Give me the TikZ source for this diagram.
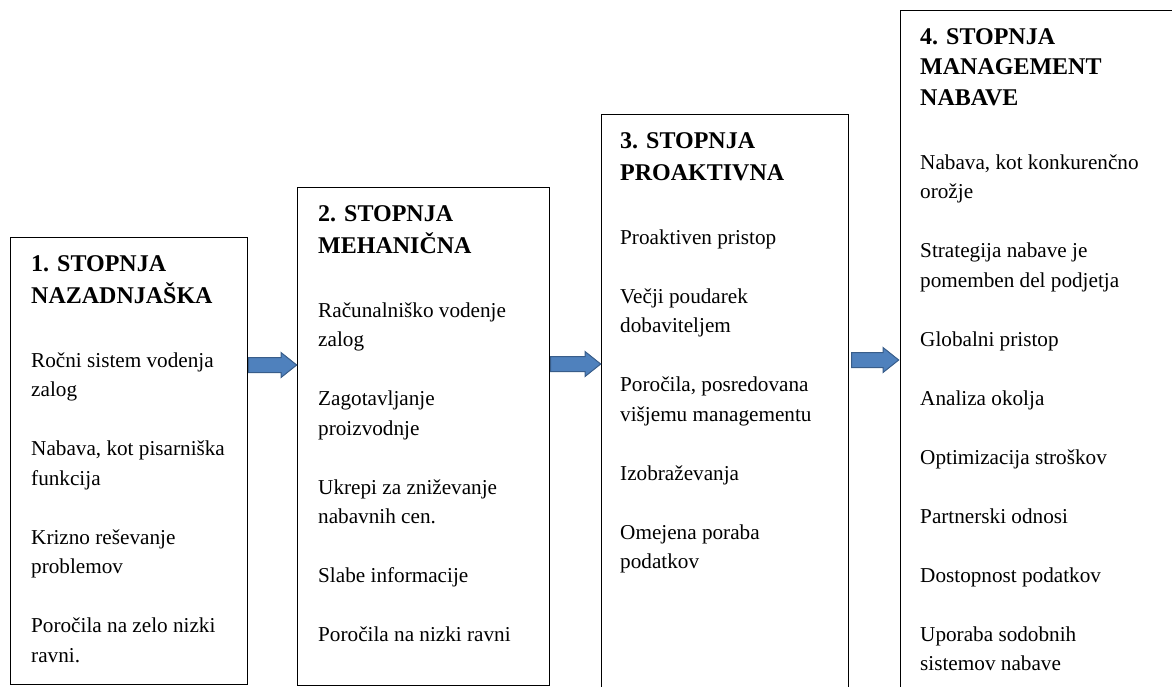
\documentclass[tikz,border=0pt]{standalone}
\usepackage{fontspec}
\setmainfont{Liberation Serif}
\usepackage{xcolor}
\usepackage{tikz}
\usetikzlibrary{calc}
\usetikzlibrary{shapes}
\usetikzlibrary{shapes.arrows}
\usetikzlibrary{positioning}
\definecolor{arrowblue}{HTML}{4F81BD}
\definecolor{arrowedge}{HTML}{385D8A}
\newcommand{\stitle}[1]{{\fontsize{24}{31}\selectfont\bfseries #1}}
\tikzstyle{stage} = [draw, rectangle, line width = 1.2pt, inner sep = 0, anchor = north west]
\tikzstyle{stagetext} = [draw=none, inner sep = 0, anchor = base west, font = \fontsize{21.2}{29.5}\selectfont]
\tikzstyle{blockarrow} = [single arrow, fill = arrowblue, draw = arrowedge, line width = 1pt, inner xsep = 0, inner ysep = 7pt, single arrow head extend = 5pt, single arrow tip angle = 77]

\begin{document}
\begin{tikzpicture}[x = 1pt, y = -1pt]
\useasboundingbox (0, 0) rectangle (1172, 686);
\clip (0, 0) rectangle (1172, 686);
% stage boxes
\node [stage, minimum width = 237pt, minimum height = 447pt] (S1) at (10, 237) {};
\node [stage, minimum width = 252pt, minimum height = 498pt] (S2) at (297, 187) {};
\node [stage, minimum width = 247pt, minimum height = 600pt] (S3) at (601, 114) {};
\node [stage, minimum width = 290pt, minimum height = 700pt] (S4) at (900, 10) {};
% texts
\node [stagetext] (T1) at (31, 271) {\begin{tabular}[t]{@{}l@{}}
\stitle{1. STOPNJA}\\[2.5pt]
\stitle{NAZADNJAŠKA}\\[34.5pt]
Ročni sistem vodenja\\ zalog\\[29.5pt]
Nabava, kot pisarniška\\ funkcija\\[29.5pt]
Krizno reševanje\\ problemov\\[29.5pt]
Poročila na zelo nizki\\ ravni.
\end{tabular}};
\node [stagetext] (T2) at (318, 221) {\begin{tabular}[t]{@{}l@{}}
\stitle{2. STOPNJA}\\[2.5pt]
\stitle{MEHANIČNA}\\[34.5pt]
Računalniško vodenje\\ zalog\\[29.5pt]
Zagotavljanje\\ proizvodnje\\[29.5pt]
Ukrepi za zniževanje\\ nabavnih cen.\\[29.5pt]
Slabe informacije\\[29.5pt]
Poročila na nizki ravni
\end{tabular}};
\node [stagetext] (T3) at (620, 148) {\begin{tabular}[t]{@{}l@{}}
\stitle{3. STOPNJA}\\[2.5pt]
\stitle{PROAKTIVNA}\\[34.5pt]
Proaktiven pristop\\[29.5pt]
Večji poudarek\\ dobaviteljem\\[29.5pt]
Poročila, posredovana\\ višjemu managementu\\[29.5pt]
Izobraževanja\\[29.5pt]
Omejena poraba\\ podatkov
\end{tabular}};
\node [stagetext] (T4) at (920, 44) {\begin{tabular}[t]{@{}l@{}}
\stitle{4. STOPNJA}\\[1pt]
\stitle{MANAGEMENT}\\[1pt]
\stitle{NABAVE}\\[34.5pt]
Nabava, kot konkurenčno\\ orožje\\[29.5pt]
Strategija nabave je\\ pomemben del podjetja\\[29.5pt]
Globalni pristop\\[29.5pt]
Analiza okolja\\[29.5pt]
Optimizacija stroškov\\[29.5pt]
Partnerski odnosi\\[29.5pt]
Dostopnost podatkov\\[29.5pt]
Uporaba sodobnih\\ sistemov nabave
\end{tabular}};
% arrows between stages
\node [blockarrow, minimum height = 48pt] (A1) at (268, 365) {};
\node [blockarrow, minimum height = 50pt] (A2) at (571, 364) {};
\node [blockarrow, minimum height = 47pt] (A3) at (870.5, 360) {};
\end{tikzpicture}
\end{document}
